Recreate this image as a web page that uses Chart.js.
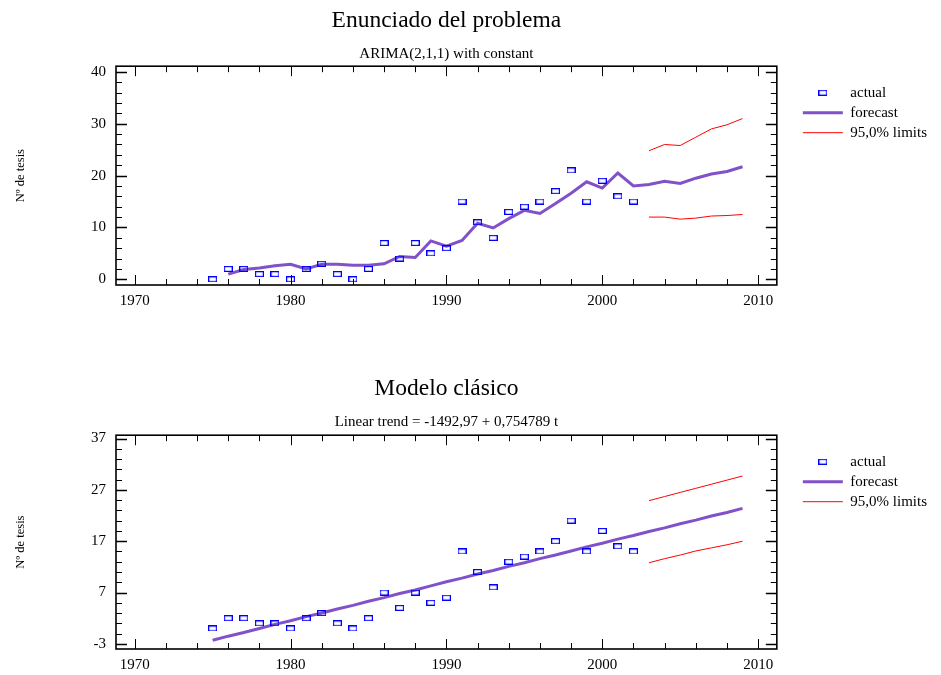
<!DOCTYPE html>
<html lang="es">
<head>
<meta charset="UTF-8">
<title>Enunciado del problema / Modelo clásico</title>
<script src="https://cdn.jsdelivr.net/npm/chart.js"></script>
<style>
  html, body { margin: 0; padding: 0; background: #fff; }
  #top { position: absolute; left: 0; top: 0; }
  #bottom { position: absolute; left: 0; top: 340px; }
</style>
</head>
<body>
<canvas id="top" width="941" height="340"></canvas>
<canvas id="bottom" width="941" height="335"></canvas>
<script>
// Observed series (same in both panels)
const years = [1975,1976,1977,1978,1979,1980,1981,1982,1983,1984,1985,1986,1987,1988,
  1989,1990,1991,1992,1993,1994,1995,1996,1997,1998,1999,2000,2001,2002];
const actual = [0,2,2,1,1,0,2,3,1,0,2,7,4,7,5,6,15,11,8,13,14,15,17,21,15,19,16,15];

// ARIMA(2,1,1) panel
const arimaYears = [1976,1977,1978,1979,1980,1981,1982,1983,1984,1985,1986,1987,1988,1989,
  1990,1991,1992,1993,1994,1995,1996,1997,1998,1999,2000,2001,2002,2003,2004,2005,2006,2007,2008,2009];
const arimaForecast = [1.0,1.9,2.2,2.6,2.9,2.0,2.9,2.9,2.7,2.7,3.0,4.4,4.2,7.4,
  6.4,7.5,10.8,9.9,11.7,13.3,12.7,14.6,16.6,18.8,17.6,20.5,18.0,18.3,18.9,18.5,19.5,20.3,20.8,21.7];
const limitYears = [2003,2004,2005,2006,2007,2008,2009];
const arimaUpper = [24.8,26.0,25.8,27.4,29.0,29.8,31.0];
const arimaLower = [12.0,12.0,11.6,11.8,12.2,12.3,12.5];

// Linear trend panel
const trendYears = [1975,1976,1977,1978,1979,1980,1981,1982,1983,1984,1985,1986,1987,1988,1989,
  1990,1991,1992,1993,1994,1995,1996,1997,1998,1999,2000,2001,2002,2003,2004,2005,2006,2007,2008,2009];
const trendForecast = [-2.3,-1.5,-0.8,0.0,0.8,1.5,2.3,3.0,3.8,4.5,5.3,6.0,6.8,7.5,8.3,
  9.1,9.8,10.6,11.3,12.1,12.8,13.6,14.3,15.1,15.9,16.6,17.4,18.1,18.9,19.6,20.4,21.1,21.9,22.6,23.4];
const trendUpper = [24.9,25.7,26.5,27.3,28.1,28.9,29.7];
const trendLower = [12.8,13.6,14.3,15.1,15.7,16.3,17.0];

// tick labels
const xLabels = [1970, 1980, 1990, 2000, 2010];
const yLabelsTop = [0, 10, 20, 30, 40];
const yLabelsBottom = [-3, 7, 17, 27, 37];

const FONT = "'Liberation Serif', 'Times New Roman', serif";
const BLUE = '#0000ff';
const PURPLE = '#8051c9';
const RED = '#ff0000';

// little hollow rectangle used for the "actual" points
const marker = document.createElement('canvas');
marker.width = 9; marker.height = 6;
(function () {
  const c = marker.getContext('2d');
  c.strokeStyle = BLUE;
  c.lineWidth = 1.2;
  c.strokeRect(0.6, 0.6, 7.8, 4.8);
})();

const pts = (xs, ys) => xs.map((x, i) => ({x: x, y: ys[i]}));

// major labels every 10, minor ticks every 2 in between
function withMinor(labels) {
  const out = [];
  for (let v = labels[0]; v <= labels[labels.length - 1] + 0.001; v += 2) out.push(v);
  return out;
}

// frame + inward ticks on all four sides (Statgraphics look)
const framePlugin = {
  id: 'frame',
  afterDraw(chart) {
    const {ctx, chartArea: a, scales} = chart;
    ctx.save();
    ctx.strokeStyle = '#000';
    ctx.lineWidth = 1;
    scales.x.ticks.forEach(t => {
      const px = Math.round(scales.x.getPixelForValue(t.value)) + 0.5;
      const len = t.label !== '' ? 10 : 6;
      ctx.beginPath();
      ctx.moveTo(px, a.bottom); ctx.lineTo(px, a.bottom - len);
      ctx.moveTo(px, a.top); ctx.lineTo(px, a.top + len);
      ctx.stroke();
    });
    scales.y.ticks.forEach(t => {
      const py = Math.round(scales.y.getPixelForValue(t.value)) + 0.5;
      const len = t.label !== '' ? 11 : 6;
      ctx.lineWidth = t.label !== '' ? 1.5 : 1;
      ctx.beginPath();
      ctx.moveTo(a.left, py); ctx.lineTo(a.left + len, py);
      ctx.moveTo(a.right, py); ctx.lineTo(a.right - len, py);
      ctx.stroke();
    });
    ctx.lineWidth = 1.6;
    ctx.strokeRect(a.left, a.top, a.right - a.left, a.bottom - a.top);
    ctx.restore();
  }
};

function makeChart(id, cfg) {
  new Chart(document.getElementById(id), {
    type: 'line',
    data: {
      datasets: [
        {label: 'actual', data: pts(years, actual), showLine: false,
          pointStyle: marker, pointRadius: 4, borderColor: BLUE, backgroundColor: BLUE},
        {label: 'forecast', data: pts(cfg.fYears, cfg.forecast), borderColor: PURPLE,
          borderWidth: 3, pointRadius: 0, pointStyle: 'line', pointBorderWidth: 3, tension: 0},
        {label: '95,0% limits', data: pts(limitYears, cfg.upper), borderColor: RED,
          borderWidth: 1, pointRadius: 0, pointStyle: 'line', pointBorderWidth: 1},
        {label: 'lower', data: pts(limitYears, cfg.lower), borderColor: RED,
          borderWidth: 1, pointRadius: 0, pointStyle: 'line', pointBorderWidth: 1}
      ]
    },
    options: {
      responsive: false,
      animation: false,
      events: [],
      layout: {padding: {left: 0, right: 4, top: 0, bottom: 0}},
      plugins: {
        title: {display: true, text: cfg.title, fullSize: false, color: '#000',
          font: {family: FONT, size: 23.5, weight: 'normal'}, padding: cfg.titlePad},
        subtitle: {display: true, text: cfg.subtitle, fullSize: false, color: '#000',
          font: {family: FONT, size: 15, weight: 'normal'}, padding: cfg.subPad},
        legend: {
          position: 'right', align: 'start', fullSize: false,
          title: {display: true, text: ' ', font: {size: 10}, padding: 1},
          labels: {
            usePointStyle: true, pointStyleWidth: 40, padding: 5, color: '#000',
            font: {family: FONT, size: 15},
            filter: item => item.text !== 'lower'
          }
        },
        tooltip: {enabled: false}
      },
      scales: {
        x: {
          type: 'linear', min: 1968.8, max: 2011.2,
          grid: {display: false, drawTicks: false}, border: {display: false},
          afterBuildTicks: s => { s.ticks = withMinor(xLabels).map(v => ({value: v})); },
          afterFit: s => { s.height = cfg.xHeight; },
          ticks: {autoSkip: false, maxRotation: 0, padding: 7, color: '#000',
            font: {family: FONT, size: 15},
            callback: v => xLabels.includes(v) ? String(v) : ''}
        },
        y: {
          type: 'linear', min: cfg.yMin, max: cfg.yMax,
          grid: {display: false, drawTicks: false}, border: {display: false},
          afterBuildTicks: s => { s.ticks = withMinor(cfg.yLabels).map(v => ({value: v})); },
          afterFit: s => { s.width = 116; },
          title: {display: true, text: 'Nº de tesis', color: '#000',
            font: {family: FONT, size: 12.5}, padding: {top: 13, bottom: 0}},
          ticks: {autoSkip: false, padding: 10, color: '#000',
            font: {family: FONT, size: 15},
            callback: v => cfg.yLabels.includes(v) ? String(v) : ''}
        },
        yR: {
          type: 'linear', position: 'right', display: true,
          grid: {display: false, drawTicks: false}, border: {display: false}, ticks: {display: false},
          afterFit: s => { s.width = 21; }
        }
      }
    },
    plugins: [framePlugin]
  });
}

makeChart('top', {
  title: 'Enunciado del problema', subtitle: 'ARIMA(2,1,1) with constant',
  titlePad: {top: 7, bottom: 5}, subPad: {top: 5, bottom: 3},
  fYears: arimaYears, forecast: arimaForecast, upper: arimaUpper, lower: arimaLower,
  yMin: -1.1, yMax: 41.1, yLabels: yLabelsTop, xHeight: 55
});

makeChart('bottom', {
  title: 'Modelo clásico', subtitle: 'Linear trend = -1492,97 + 0,754789 t',
  titlePad: {top: 35, bottom: 5}, subPad: {top: 5, bottom: 4},
  fYears: trendYears, forecast: trendForecast, upper: trendUpper, lower: trendLower,
  yMin: -4.0, yMax: 37.65, yLabels: yLabelsBottom, xHeight: 26
});
</script>
</body>
</html>
